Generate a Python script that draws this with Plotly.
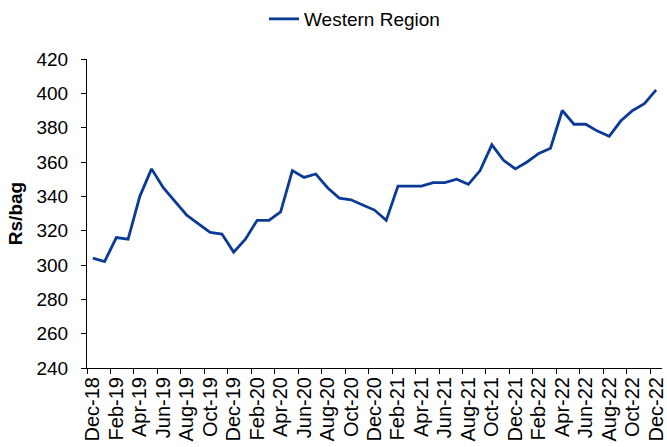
import plotly.graph_objects as go

months = ["Dec-18","Jan-19","Feb-19","Mar-19","Apr-19","May-19","Jun-19","Jul-19","Aug-19","Sep-19","Oct-19","Nov-19",
          "Dec-19","Jan-20","Feb-20","Mar-20","Apr-20","May-20","Jun-20","Jul-20","Aug-20","Sep-20","Oct-20","Nov-20",
          "Dec-20","Jan-21","Feb-21","Mar-21","Apr-21","May-21","Jun-21","Jul-21","Aug-21","Sep-21","Oct-21","Nov-21",
          "Dec-21","Jan-22","Feb-22","Mar-22","Apr-22","May-22","Jun-22","Jul-22","Aug-22","Sep-22","Oct-22","Nov-22",
          "Dec-22"]
western = [304, 302, 316, 315, 340, 356, 345, 337, 329, 324, 319, 318,
           307.5, 315, 326, 326, 331, 355, 351, 353, 345, 339, 338, 335,
           332, 326, 346, 346, 346, 348, 348, 350, 347, 355, 370, 361,
           356, 360, 365, 368, 390, 382, 382, 378, 375, 384, 390, 394,
           402]
y_ticks = [240, 260, 280, 300, 320, 340, 360, 380, 400, 420]

x_idx = list(range(len(months)))
label_idx = x_idx[::2]
label_text = months[::2]
boundary_ticks = [i - 0.5 for i in label_idx]

fig = go.Figure()
fig.add_trace(go.Scatter(x=x_idx, y=western, mode="lines", name="Western Region",
                         line=dict(color="#0B3A96", width=2.8)))

font = dict(family="Liberation Sans, Arial, sans-serif", size=18, color="#000000")
fig.update_layout(
    width=667, height=447,
    margin=dict(l=87, r=5, t=59, b=79),
    paper_bgcolor="white", plot_bgcolor="white",
    font=font,
    showlegend=True,
    legend=dict(orientation="h", xref="container", yref="container",
                x=264 / 667, xanchor="left", y=1, yanchor="top",
                font=dict(size=19), bgcolor="rgba(0,0,0,0)"),
    xaxis=dict(range=[-0.5, len(months) - 0.5], tickmode="array", tickvals=label_idx,
               ticktext=label_text, tickangle=-90, ticks="", showgrid=False, zeroline=False,
               showline=True, linecolor="#000000", linewidth=1, automargin=False,
               tickfont=dict(size=20),
               minor=dict(tickmode="array", tickvals=boundary_ticks, ticks="outside",
                          ticklen=5, tickcolor="#000000", showgrid=False)),
    yaxis=dict(range=[240, 420], tickmode="array", tickvals=y_ticks, ticks="outside",
               ticklen=5, tickcolor="#000000", showgrid=False, zeroline=False,
               showline=True, linecolor="#000000", linewidth=1, automargin=False,
               tickfont=dict(size=19), ticklabelstandoff=9,
               title=dict(text="<b>Rs/bag</b>", font=dict(size=19), standoff=8)),
)

fig.write_html("out.html", config={"displayModeBar": False},
               post_script="document.body.style.margin='0px';document.body.style.overflow='hidden';")
